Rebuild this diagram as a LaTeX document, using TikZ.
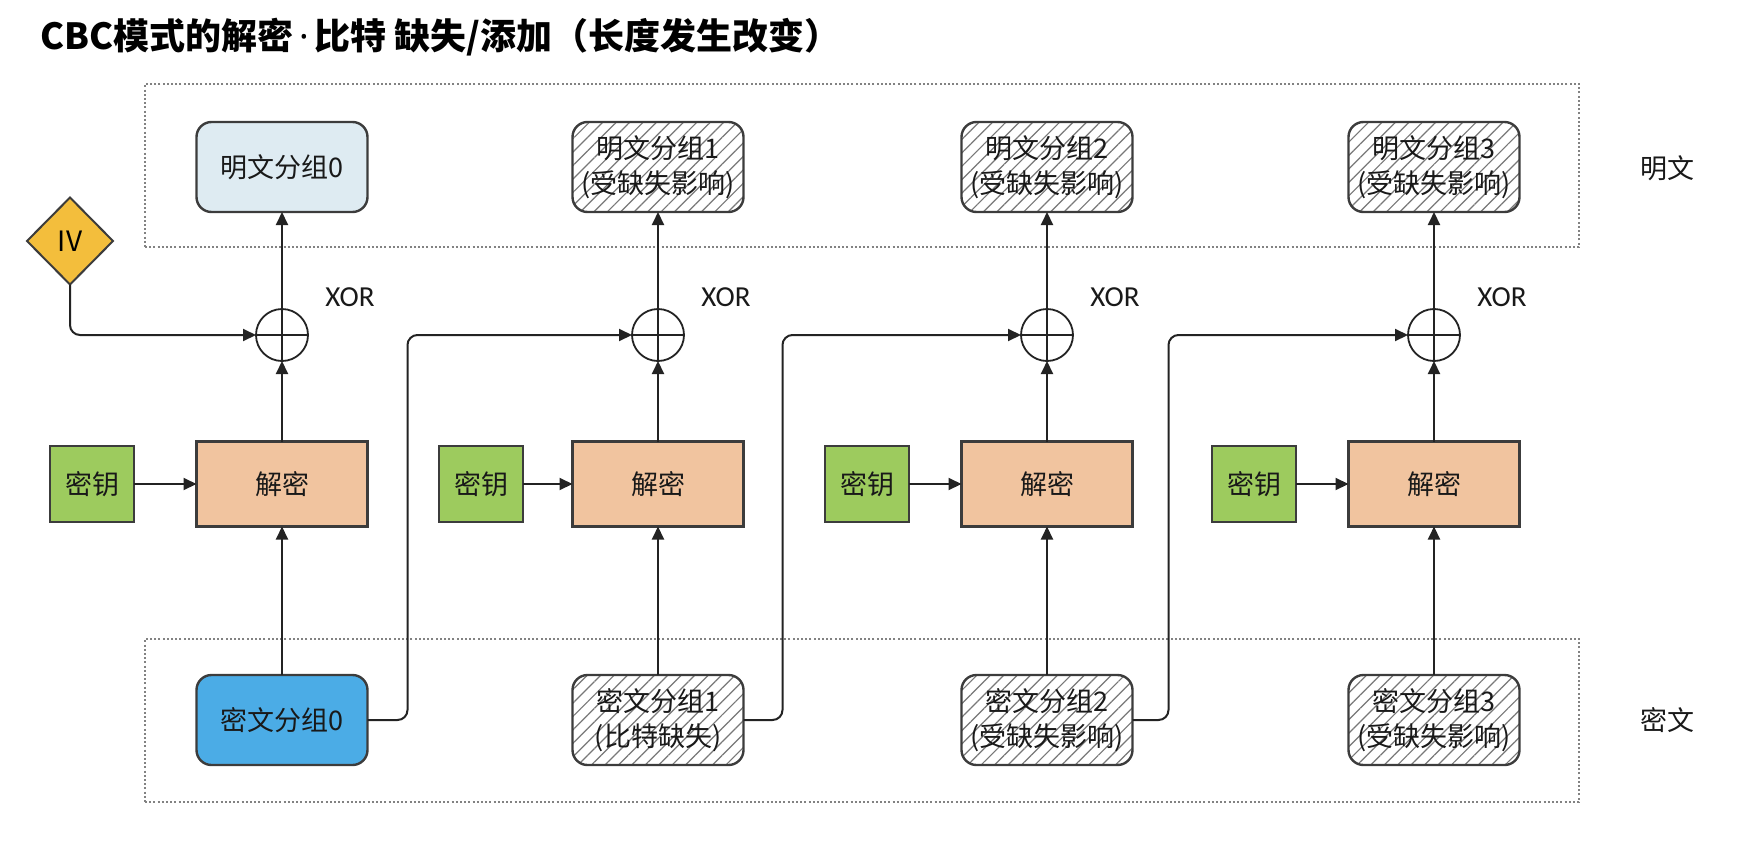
\documentclass[tikz,border=0pt]{standalone}
\usepackage{fontspec}
\setmainfont{Noto Sans CJK SC}
\newfontfamily\xorfont{Carlito}
\newfontfamily\dotfont{Noto Sans}
\usetikzlibrary{arrows.meta,shapes.geometric,patterns.meta}

\definecolor{plainfill}{RGB}{222,235,242}
\definecolor{cipherfill}{RGB}{75,172,230}
\definecolor{decfill}{RGB}{241,196,159}
\definecolor{keyfill}{RGB}{157,203,94}
\definecolor{ivfill}{RGB}{243,190,60}
\definecolor{edge}{RGB}{60,60,60}
\definecolor{wire}{RGB}{35,35,35}
\definecolor{hatch}{RGB}{120,120,120}
\definecolor{framegray}{RGB}{130,130,130}

\begin{document}
\begin{tikzpicture}[x=1pt,y=-1pt,
  every node/.style={inner sep=0pt, outer sep=0pt},
  boxtxt/.style={font=\fontsize{27}{35}\selectfont, align=center, text=black!90},
  block/.style={boxtxt, draw=edge, line width=2.4pt, minimum width=171pt,
    minimum height=90pt, rounded corners=15pt},
  hatched/.style={block, preaction={fill=white},
    pattern={Lines[angle=45,distance=9.5pt,line width=1.2pt]}, pattern color=hatch},
  decbox/.style={boxtxt, draw=edge, line width=2.4pt, fill=decfill,
    minimum width=171pt, minimum height=85pt},
  keybox/.style={boxtxt, draw=edge, line width=2.4pt, fill=keyfill,
    minimum width=84pt, minimum height=76pt},
  xorc/.style={circle, draw=wire, line width=1.8pt, minimum size=52pt,
    path picture={\draw[wire, line width=1.8pt]
      (path picture bounding box.north) -- (path picture bounding box.south)
      (path picture bounding box.west) -- (path picture bounding box.east);}},
  xorlbl/.style={font=\xorfont\fontsize{29}{29}\selectfont, text=black!90},
  conn/.style={draw=wire, line width=2pt, -{Triangle[length=13pt,width=12pt]}},
  feed/.style={conn, rounded corners=10pt},
  frame/.style={draw=framegray, line width=1.8pt, dash pattern=on 2pt off 2.2pt,
    minimum width=1434pt, minimum height=163pt},
]
\useasboundingbox (0,0) rectangle (1740,846);

% heading
\node[font=\fontsize{36}{36}\selectfont\bfseries, anchor=west] (title) at (40,37)
  {CBC模式的解密{\dotfont\,·\,}比特 缺失/添加（长度发生改变）};

% plaintext and ciphertext rows
\node[frame] (ptframe) at (862,165.5) {};
\node[frame] (ctframe) at (862,720.5) {};
\node[boxtxt] (ptlabel) at (1667,168) {明文};
\node[boxtxt] (ctlabel) at (1667,720) {密文};

% plaintext blocks
\node[block, fill=plainfill] (p0) at (282,167) {明文分组0};
\node[hatched] (p1) at (658,167) {明文分组1\\(受缺失影响)};
\node[hatched] (p2) at (1047,167) {明文分组2\\(受缺失影响)};
\node[hatched] (p3) at (1434,167) {明文分组3\\(受缺失影响)};

% ciphertext blocks
\node[block, fill=cipherfill] (c0) at (282,720) {密文分组0};
\node[hatched] (c1) at (658,720) {密文分组1\\(比特缺失)};
\node[hatched] (c2) at (1047,720) {密文分组2\\(受缺失影响)};
\node[hatched] (c3) at (1434,720) {密文分组3\\(受缺失影响)};

% initialisation vector
\node[diamond, draw=edge, line width=2pt, fill=ivfill, minimum width=86pt,
  minimum height=87pt, font=\fontsize{28}{28}\selectfont] (iv) at (70,241) {IV};

% decryption stages
\foreach \i/\cx/\kx in {0/282/92, 1/658/481, 2/1047/867, 3/1434/1254}{
  \node[xorc] (x\i) at (\cx,335) {};
  \node[xorlbl] (xl\i) at (\cx+68,297) {XOR};
  \node[decbox] (d\i) at (\cx,484) {解密};
  \node[keybox] (k\i) at (\kx,484) {密钥};
  \draw[conn] (x\i.north) -- (p\i.south);
  \draw[conn] (d\i.north) -- (x\i.south);
  \draw[conn] (c\i.north) -- (d\i.south);
  \draw[conn] (k\i.east) -- (d\i.west);
}

% chaining: IV and previous ciphertext into each XOR
\draw[feed] (iv.south) |- (x0.west);
\draw[feed] (c0.east) -- ([xshift=40pt]c0.east) |- (x1.west);
\draw[feed] (c1.east) -- ([xshift=39pt]c1.east) |- (x2.west);
\draw[feed] (c2.east) -- ([xshift=36pt]c2.east) |- (x3.west);
\end{tikzpicture}
\end{document}
